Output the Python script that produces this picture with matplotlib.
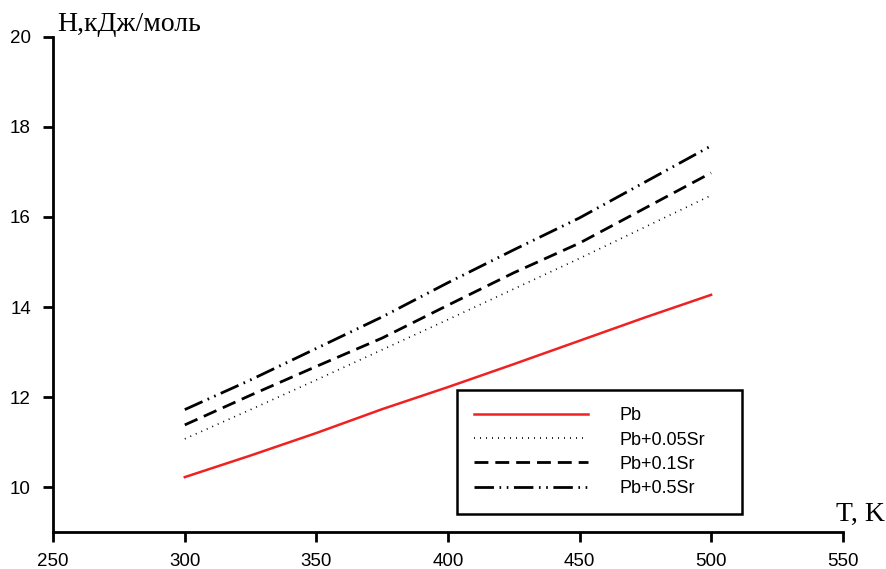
import matplotlib.pyplot as plt

T = [300, 325, 350, 375, 400, 425, 450, 475, 500]
pb = [10.22, 10.70, 11.20, 11.73, 12.22, 12.73, 13.25, 13.77, 14.27]
pb_005sr = [11.07, 11.72, 12.38, 13.05, 13.72, 14.40, 15.08, 15.78, 16.48]
pb_01sr = [11.38, 12.04, 12.68, 13.31, 14.04, 14.76, 15.42, 16.20, 16.98]
pb_05sr = [11.72, 12.38, 13.08, 13.78, 14.54, 15.27, 15.98, 16.78, 17.58]

labels = ["Pb", "Pb+0.05Sr", "Pb+0.1Sr", "Pb+0.5Sr"]
xticks = [250, 300, 350, 400, 450, 500, 550]
yticks = [10, 12, 14, 16, 18, 20]

fig = plt.figure(figsize=(8.87, 5.69), dpi=100)
ax = fig.add_axes([0.060, 0.065, 0.890, 0.870])

ax.plot(T, pb, color="#ee2222", lw=1.8, label=labels[0])
ax.plot(T, pb_005sr, color="black", lw=1.2, dashes=(0.6, 3.0), label=labels[1])
ax.plot(T, pb_01sr, color="black", lw=2.0, dashes=(5, 2.5), label=labels[2])
ax.plot(T, pb_05sr, color="black", lw=2.0, dashes=(7, 2, 0.6, 2, 0.6, 2), label=labels[3])

ax.set_xlim(250, 550)
ax.set_ylim(9, 20)
ax.set_xticks(xticks)
ax.set_yticks(yticks)
ax.spines["top"].set_visible(False)
ax.spines["right"].set_visible(False)
for s in ["left", "bottom"]:
    ax.spines[s].set_linewidth(2)
ax.tick_params(axis="both", direction="out", length=7, width=2)
ax.tick_params(axis="y", pad=9)
ax.tick_params(axis="x", pad=8)
for lab in ax.get_xticklabels() + ax.get_yticklabels():
    lab.set_family("Liberation Sans")
    lab.set_fontsize(13.5)

# axis titles sit at the ends of the axes
ax.text(0.005, 1.026, "H,кДж/моль", transform=ax.transAxes, family="Liberation Serif",
        fontsize=20, ha="left", va="center")
ax.text(1.053, 0.022, "T, K", transform=ax.transAxes, family="Liberation Serif",
        fontsize=20, ha="right", va="baseline")

leg = ax.legend(loc="lower left", bbox_to_anchor=(0.511, 0.036, 0.361, 0.249),
                mode="expand", borderaxespad=0, prop={"family": "Liberation Sans", "size": 13},
                handlelength=6.3, handletextpad=1.75, borderpad=0.95, labelspacing=0.4,
                fancybox=False, edgecolor="black", framealpha=1)
leg.get_frame().set_linewidth(1.8)

fig.savefig("out.png", dpi=100)
